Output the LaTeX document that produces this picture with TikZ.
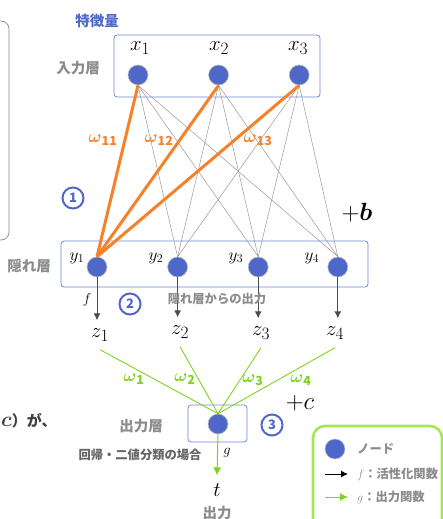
\documentclass[tikz,border=0pt]{standalone}
\usepackage{amsmath,amssymb}
\usepackage{fontspec}
\setmainfont{Noto Sans CJK JP}
\usepackage{tikz}
\usetikzlibrary{arrows.meta,positioning,fit}
\DeclareMathSizes{20}{20}{16}{12}
\DeclareMathSizes{16}{16}{13}{10}
\DeclareMathSizes{18}{18}{12.5}{9}
\definecolor{nodeblue}{HTML}{4F67C8}
\definecolor{boxblue}{HTML}{6F85D6}
\definecolor{wtorange}{HTML}{F5822A}
\definecolor{outgreen}{HTML}{7FD31F}
\definecolor{legendgreen}{HTML}{A6E655}
\definecolor{labgray}{HTML}{8C8C8C}
\begin{document}
\begin{tikzpicture}[
  x=1pt,y=1pt,
  font=\fontsize{12}{14}\selectfont,
  unit/.style={circle,fill=nodeblue,draw=black!25,line width=.6pt,minimum size=20pt,inner sep=0pt},
  layerbox/.style={draw=boxblue,line width=.8pt,rounded corners=3pt,inner sep=0pt},
  graylab/.style={text=labgray,font=\fontsize{14.5}{16}\selectfont\bfseries},
  darklab/.style={text=black!60,font=\fontsize{12.3}{14}\selectfont\bfseries,inner sep=0pt},
  mathlab/.style={font=\fontsize{20}{22}\selectfont,inner sep=0pt},
  zlab/.style={mathlab,inner ysep=8pt},
  ylab/.style={font=\fontsize{16}{18}\selectfont,inner sep=0pt},
  wt/.style={text=wtorange,font=\fontsize{18}{20}\selectfont},
  wg/.style={text=outgreen,font=\fontsize{18}{20}\selectfont},
  numb/.style={circle,draw=nodeblue,line width=2pt,text=nodeblue,minimum size=21pt,inner sep=0pt,font=\fontsize{13}{15}\selectfont\bfseries},
  full/.style={draw=black!40,line width=.5pt},
  heavy/.style={draw=wtorange,line width=3pt},
  arr/.style={-{Latex[length=7pt,width=7pt]},line width=1pt,black!70},
  garr/.style={-{Latex[length=8pt,width=8pt]},line width=1pt,outgreen},
  gline/.style={outgreen,line width=.9pt}]
\useasboundingbox (0,0) rectangle (443,-519);
\clip (0,0) rectangle (443,-519);
% units
\node[unit] (x1) at (138,-75) {};
\node[unit,right=60pt of x1] (x2) {};
\node[unit,right=60pt of x2] (x3) {};
\node[unit] (y1) at (97,-267) {};
\node[unit,right=60pt of y1] (y2) {};
\node[unit,right=60pt of y2] (y3) {};
\node[unit,right=59pt of y3] (y4) {};
\node[unit] (o) at (218,-424) {};
% layers
\coordinate (ia) at (114,-35); \coordinate (ib) at (320,-97);
\coordinate (ha) at (61,-241); \coordinate (hb) at (368,-287);
\coordinate (oa) at (188,-405); \coordinate (ob) at (247,-442);
\node[layerbox,fit=(ia)(ib)] (inbox) {};
\node[layerbox,fit=(ha)(hb)] (hidbox) {};
\node[layerbox,fit=(oa)(ob)] (outbox) {};
% names
\node[mathlab] (lx1) at (140,-48) {$x_1$};
\node[mathlab] (lx2) at (219,-48) {$x_2$};
\node[mathlab] (lx3) at (298,-48) {$x_3$};
\node[ylab] (ly1) at (77,-258) {$y_1$};
\node[ylab] (ly2) at (156,-258) {$y_2$};
\node[ylab] (ly3) at (236,-258) {$y_3$};
\node[ylab] (ly4) at (312,-258) {$y_4$};
\node[zlab] (z1) at (100,-335) {$z_1$};
\node[zlab] (z2) at (180,-332) {$z_2$};
\node[zlab] (z3) at (261,-333) {$z_3$};
\node[zlab] (z4) at (335,-333) {$z_4$};
\node[zlab] (t) at (217,-490) {$t$};
% all to all
\foreach \a in {x1,x2,x3}{
  \foreach \b in {y1,y2,y3,y4}{
    \draw[full] (\a.south)--(\b.north);
  }
}
\draw[heavy] (x1.south)--(y1.north);
\draw[heavy] (x2.south)--(y1.north);
\draw[heavy] (x3.south)--(y1.north);
% outputs
\foreach \i in {1,2,3,4}{
  \draw[arr] (y\i.south)--(y\i |- z\i.north);
  \draw[gline] (z\i.south)--(o.north);
}
\draw[garr] (o.south)--(t.north);
% labels
\node[text=nodeblue,font=\fontsize{14.5}{16}\selectfont\bfseries] (feat) at (97,-21) {特徴量};
\node[graylab] (inlab) at (78,-68) {入力層};
\node[graylab] (hidlab) at (29,-266) {隠れ層};
\node[darklab,text=labgray] (hidout) at (217,-299) {隠れ層からの出力};
\node[graylab] (outlab) at (141,-426) {出力層};
\node[darklab] (reg) at (140,-455) {回帰・二値分類の場合};
\node[graylab] (outname) at (217,-513) {出力};
\node[font=\fontsize{15}{17}\selectfont\bfseries,text=black!75,anchor=west,inner sep=0pt] (cga) at (1,-421) {{\fontsize{20}{22}\selectfont$\boldsymbol{c}$}）が、};
\node[wt] (w11) at (103,-140) {$\boldsymbol{\omega}_{\mathbf{11}}$};
\node[wt] (w12) at (159,-140) {$\boldsymbol{\omega}_{\mathbf{12}}$};
\node[wt] (w13) at (258,-140) {$\boldsymbol{\omega}_{\mathbf{13}}$};
\node[wg] (w1) at (134,-379) {$\boldsymbol{\omega}_{\mathbf{1}}$};
\node[wg] (w2) at (185,-379) {$\boldsymbol{\omega}_{\mathbf{2}}$};
\node[wg] (w3) at (253,-380) {$\boldsymbol{\omega}_{\mathbf{3}}$};
\node[wg] (w4) at (301,-380) {$\boldsymbol{\omega}_{\mathbf{4}}$};
\node[mathlab,font=\fontsize{23}{25}\selectfont] (plusb) at (357,-213) {$+\boldsymbol{b}$};
\node[mathlab,font=\fontsize{23}{25}\selectfont] (plusc) at (300,-403) {$+c$};
\node[font=\fontsize{14}{16}\selectfont] (fl) at (87,-300) {$f$};
\node[font=\fontsize{14}{16}\selectfont] (gl) at (227,-453) {$g$};
\node[numb] (n1) at (73,-198) {1};
\node[numb] (n2) at (130,-304) {2};
\node[numb] (n3) at (272,-425) {3};
% cut off panel
\draw[black!45,line width=.7pt,rounded corners=8pt] (-10,-21)--(9,-21)--(9,-240)--(-10,-240);
% legend
\draw[legendgreen,line width=2.6pt,rounded corners=12pt] (313,-426) rectangle (442,-530);
\node[unit] (lnode) at (335,-449) {};
\node[darklab,text=labgray,anchor=west] (lnodet) at (357,-449) {ノード};
\coordinate (fa) at (325,-474); \coordinate (fb) at (348,-474);
\draw[-{Latex[length=7pt,width=7pt]},line width=1pt] (fa)--(fb);
\node[darklab,text=labgray,anchor=west] (lf) at (357,-474) {$f$：活性化関数};
\coordinate (ga) at (325,-497); \coordinate (gb) at (348,-497);
\draw[garr] (ga)--(gb);
\node[darklab,text=labgray,anchor=west] (lg) at (357,-497) {$g$：出力関数};
\end{tikzpicture}
\end{document}
